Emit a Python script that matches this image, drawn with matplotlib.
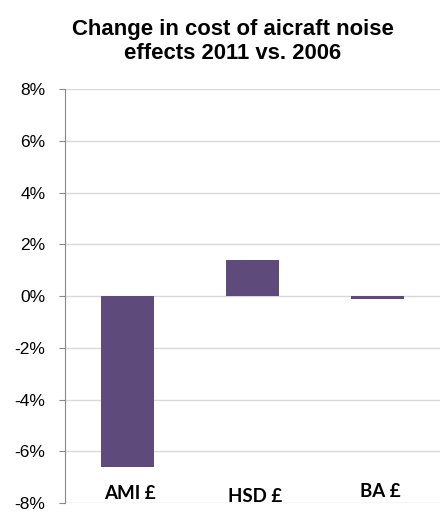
import matplotlib
matplotlib.use("Agg")
import matplotlib.pyplot as plt

categories = ["AMI £", "HSD £", "BA £"]
values = [-6.6, 1.4, -0.1]
label_y = [-7.62, -7.75, -7.55]
yticks = [-8, -6, -4, -2, 0, 2, 4, 6, 8]
title = "Change in cost of aicraft noise\neffects 2011 vs. 2006"

fig = plt.figure(figsize=(4.45, 5.16), dpi=100)
ax = fig.add_axes([0.146, 0.0252, 0.843, 0.8023])

x = list(range(len(categories)))
ax.bar(x, values, width=0.42, color="#5F4B7B", zorder=3)
ax.set_xlim(-0.5, len(categories) - 0.5)
ax.set_ylim(-8, 8)
ax.set_yticks(yticks)
ax.set_yticklabels([f"{v}%" for v in yticks], family="Liberation Sans", fontsize=12.5)
ax.set_xticks([])
ax.grid(axis="y", color="#D9D9D9", linewidth=1, zorder=0)
for s in ["top", "right", "bottom"]:
    ax.spines[s].set_visible(False)
ax.spines["left"].set_color("#888888")
ax.tick_params(axis="y", length=4, color="#888888", pad=10)

for xi, c, ly in zip(x, categories, label_y):
    ax.text(xi + 0.02, ly, c, ha="center", va="center", family="Lato", fontweight="bold", fontsize=13.5)

fig.suptitle(title, family="Liberation Sans", fontweight="bold", fontsize=15.9, y=0.964, va="top", x=0.523, linespacing=1.2)

fig.savefig("out.png", dpi=100)
